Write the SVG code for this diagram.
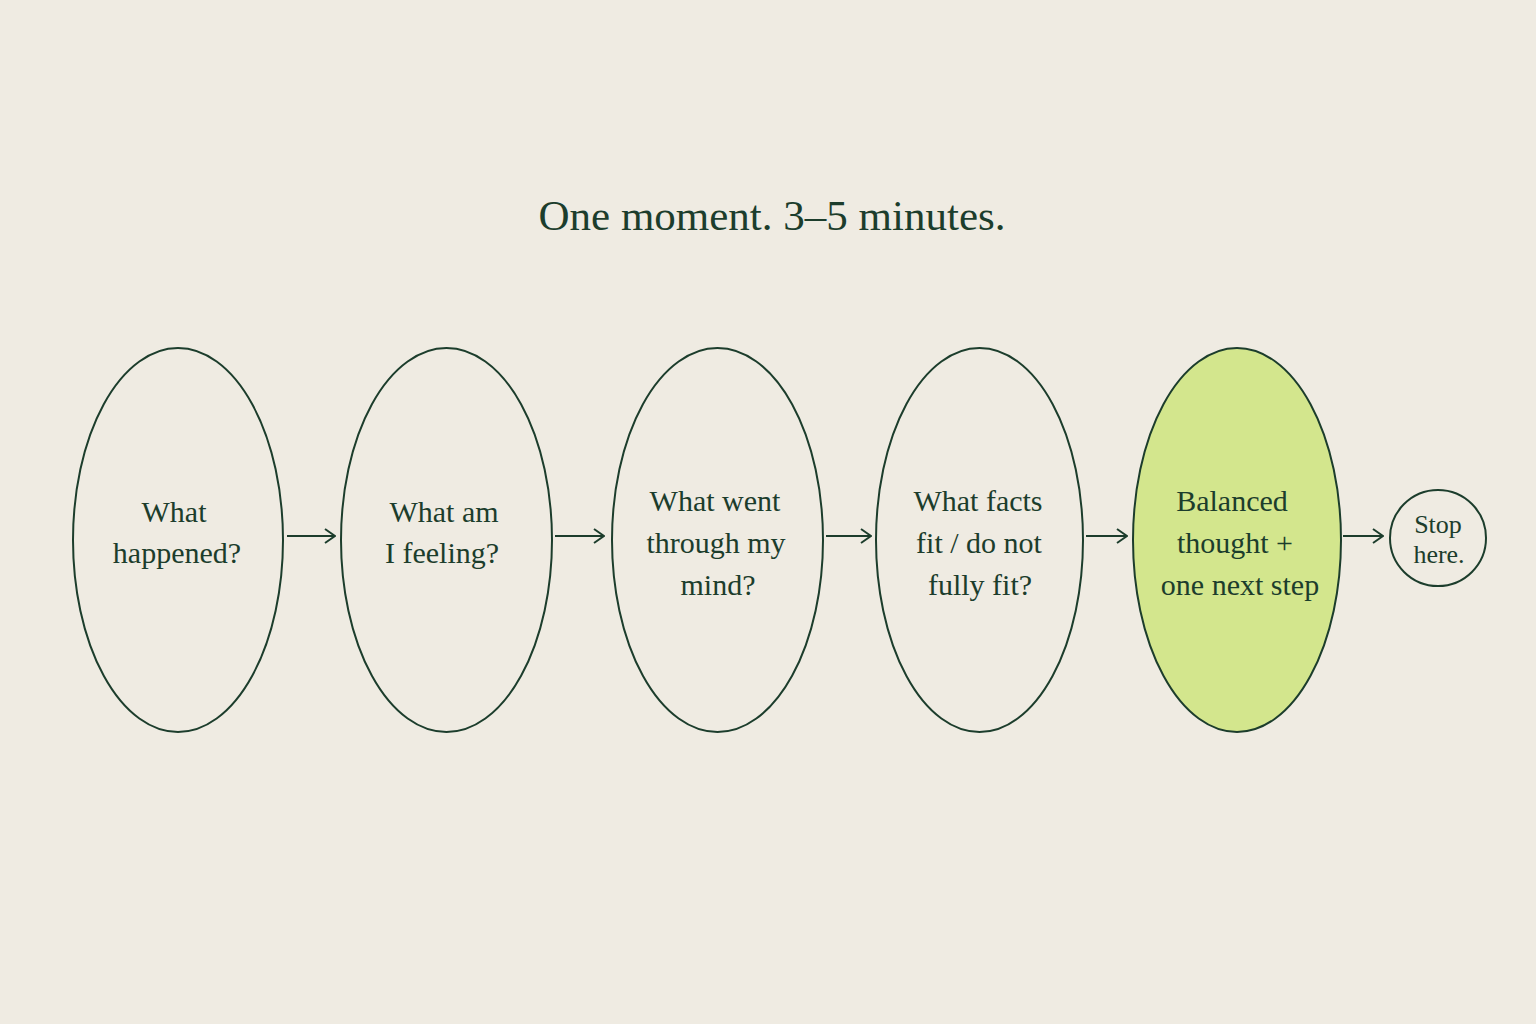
<svg xmlns="http://www.w3.org/2000/svg" width="1536" height="1024" viewBox="0 0 1536 1024">
<defs>
<style>
.node{fill:none;stroke:#1c3d2c;stroke-width:2}
.hl{fill:#d3e68d}
.lbl{font-family:"Liberation Serif","DejaVu Serif",serif;font-size:30px;fill:#1c3d2c;text-anchor:middle}
.small{font-size:26px}
.title{font-family:"Liberation Serif","DejaVu Serif",serif;font-size:43px;fill:#1c3d2c;text-anchor:middle}
.conn{stroke:#1c3d2c;stroke-width:2;fill:none}
</style>
<marker id="arr" viewBox="0 0 12 16" refX="11" refY="8" markerWidth="12" markerHeight="16" markerUnits="userSpaceOnUse" orient="auto">
<path d="M1,1 L11,8 L1,15" fill="none" stroke="#1c3d2c" stroke-width="2"/>
</marker>
</defs>
<rect width="1536" height="1024" fill="#efebe2"/>
<text class="title" x="772" y="230">One moment. 3–5 minutes.</text>
<g id="n1"><ellipse class="node" cx="178" cy="540" rx="105" ry="192"/>
<text class="lbl" x="174" y="522">What</text><text class="lbl" x="177" y="563">happened?</text></g>
<g id="n2"><ellipse class="node" cx="446.5" cy="540" rx="105.5" ry="192"/>
<text class="lbl" x="444" y="522">What am</text><text class="lbl" x="442" y="563">I feeling?</text></g>
<g id="n3"><ellipse class="node" cx="717.5" cy="540" rx="105.5" ry="192"/>
<text class="lbl" x="715" y="511">What went</text><text class="lbl" x="716" y="553">through my</text><text class="lbl" x="718" y="595">mind?</text></g>
<g id="n4"><ellipse class="node" cx="979.5" cy="540" rx="103.5" ry="192"/>
<text class="lbl" x="978" y="511">What facts</text><text class="lbl" x="979" y="553">fit / do not</text><text class="lbl" x="980" y="595">fully fit?</text></g>
<g id="n5"><ellipse class="node hl" cx="1237" cy="540" rx="104" ry="192"/>
<text class="lbl" x="1232" y="511">Balanced</text><text class="lbl" x="1235" y="553">thought +</text><text class="lbl" x="1240" y="595">one next step</text></g>
<g id="n6"><circle class="node" cx="1438" cy="538" r="48"/>
<text class="lbl small" x="1438" y="533">Stop</text><text class="lbl small" x="1439" y="563">here.</text></g>
<g id="connectors">
<line class="conn" x1="287" y1="536" x2="335" y2="536" marker-end="url(#arr)"/>
<line class="conn" x1="555" y1="536" x2="604" y2="536" marker-end="url(#arr)"/>
<line class="conn" x1="826" y1="536" x2="871" y2="536" marker-end="url(#arr)"/>
<line class="conn" x1="1086" y1="536" x2="1127" y2="536" marker-end="url(#arr)"/>
<line class="conn" x1="1343" y1="536" x2="1383" y2="536" marker-end="url(#arr)"/>
</g>
</svg>
